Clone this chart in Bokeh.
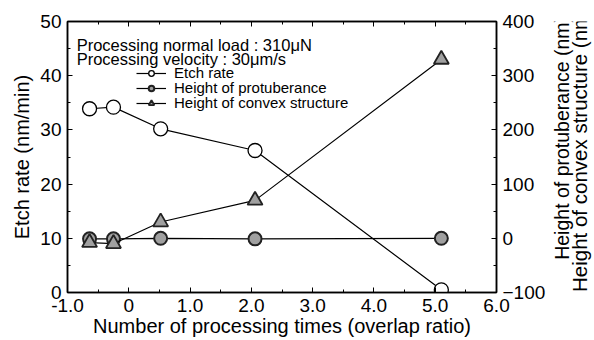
import math
from bokeh.plotting import figure
from bokeh.layouts import row
from bokeh.models import (Range1d, LinearAxis, FixedTicker, Legend, LegendItem, Label,
                          CustomLabelingPolicy)
from bokeh.core.properties import value
from bokeh.embed import file_html
from bokeh.resources import INLINE

# ---- data ----
x_vals = [-0.64, -0.25, 0.52, 2.06, 5.1]
etch_rate = [33.9, 34.2, 30.2, 26.2, 0.5]
protuberance = [-1, -1, 0, -1, 0]
convex = [-8, -10, 30, 70, 330]

x_ticks = [-1, 0, 1, 2, 3, 4, 5, 6]
x_tick_labels = ["-1.0", "0", "1.0", "2.0", "3.0", "4.0", "5.0", "6.0"]
y_ticks = [0, 10, 20, 30, 40, 50]
y2_ticks = [-100, 0, 100, 200, 300, 400]
right_titles = ["Height of protuberance (nm)", "Height of convex structure (nm)"]

FONT = "Liberation Sans"

p = figure(width=548, height=340, output_backend="svg", toolbar_location=None,
           x_range=Range1d(-1, 6), y_range=Range1d(0, 50),
           min_border_left=67, min_border_right=49, min_border_top=19, min_border_bottom=48)
p.extra_y_ranges = {"right": Range1d(-100, 400)}
p.grid.visible = False
p.outline_line_color = "black"
p.outline_line_width = 1.5
p.background_fill_color = "white"

def style_axis(ax):
    ax.axis_line_color = "black"
    ax.axis_line_width = 1.5
    ax.major_tick_in = 5
    ax.major_tick_out = 0
    ax.minor_tick_in = 3
    ax.minor_tick_out = 0
    ax.major_tick_line_color = "black"
    ax.minor_tick_line_color = "black"
    ax.major_label_text_font = FONT
    ax.major_label_text_font_size = "19px"
    ax.major_label_text_color = "black"
    ax.axis_label_text_font = FONT
    ax.axis_label_text_font_size = "20px"
    ax.axis_label_text_font_style = "normal"
    ax.axis_label_text_color = "black"

xa = p.xaxis[0]
xa.ticker = FixedTicker(ticks=x_ticks, minor_ticks=[t + 0.5 for t in x_ticks[:-1]])
xa.major_label_overrides = {t: l for t, l in zip(x_ticks, x_tick_labels)}
xa.axis_label = "Number of processing times (overlap ratio)"
style_axis(xa)
xa.major_label_standoff = 6
xa.axis_label_standoff = 0

ya = p.yaxis[0]
ya.ticker = FixedTicker(ticks=y_ticks, minor_ticks=[t + 5 for t in y_ticks[:-1]])
ya.axis_label = "Etch rate (nm/min)"
style_axis(ya)
ya.major_label_standoff = 6
ya.axis_label_standoff = 4

top = LinearAxis(ticker=FixedTicker(ticks=x_ticks, minor_ticks=[t + 0.5 for t in x_ticks[:-1]]))
style_axis(top)
top.major_label_policy = CustomLabelingPolicy(
    code="for (const i of indices) { indices.unset(i) }\nreturn indices")
p.add_layout(top, "above")

ra = LinearAxis(y_range_name="right",
                ticker=FixedTicker(ticks=y2_ticks, minor_ticks=[t + 50 for t in y2_ticks[:-1]]))
style_axis(ra)
ra.major_label_standoff = 6
p.add_layout(ra, "right")

# ---- series ----
l1 = p.line(x_vals, etch_rate, line_color="black", line_width=1.2)
m1 = p.scatter(x_vals, etch_rate, marker="circle", size=14, fill_color="white",
               line_color="black", line_width=1.3)
l2 = p.line(x_vals, protuberance, y_range_name="right", line_color="black", line_width=1.2)
m2 = p.scatter(x_vals, protuberance, y_range_name="right", marker="circle", size=13,
               fill_color="#a0a0a0", line_color="#222222", line_width=2)
l3 = p.line(x_vals, convex, y_range_name="right", line_color="black", line_width=1.2)
m3 = p.scatter(x_vals, convex, y_range_name="right", marker="triangle", size=15,
               fill_color="#a0a0a0", line_color="#222222", line_width=1.8)

# one legend per row so that the row spacing can be set exactly
legend_rows = [("Etch rate", [l1, m1], 211),
               ("Height of protuberance", [l2, m2], 196),
               ("Height of convex structure", [l3, m3], 181)]
for label, rends, ybot in legend_rows:
    lg = Legend(items=[LegendItem(label=label, renderers=rends)], location=(69, ybot),
                padding=0, margin=0, spacing=0, glyph_width=30, glyph_height=14,
                label_height=14, label_standoff=8, border_line_alpha=0,
                background_fill_alpha=0, label_text_font=FONT,
                label_text_font_size="15px", label_text_color="black")
    p.add_layout(lg)

p.add_layout(Label(x=-0.85, y=45.6, text="Processing normal load : 310μN", text_font=FONT,
                   text_font_size="16.5px", text_baseline="alphabetic", text_color="black"))
p.add_layout(Label(x=-0.85, y=43.0, text="Processing velocity : 30μm/s", text_font=FONT,
                   text_font_size="16.5px", text_baseline="alphabetic", text_color="black"))

# ---- narrow strip on the right holding the two-line right-axis title ----
q = figure(width=46, height=340, output_backend="svg", toolbar_location=None,
           x_range=Range1d(0, 46), y_range=Range1d(340, 0), title=None,
           min_border=0, x_axis_type=None, y_axis_type=None)
q.grid.visible = False
q.outline_line_color = None
q.text(x=[13], y=[146], text=right_titles[:1], angle=math.pi / 2,
       text_align="center", text_baseline="middle", text_font=value(FONT),
       text_font_size="19.5px", text_color="black")
q.text(x=[31], y=[160], text=right_titles[1:], angle=math.pi / 2,
       text_align="center", text_baseline="middle", text_font=value(FONT),
       text_font_size="20.5px", text_color="black")

layout = row(p, q, spacing=0)
open("out.html", "w").write(file_html(layout, INLINE))
